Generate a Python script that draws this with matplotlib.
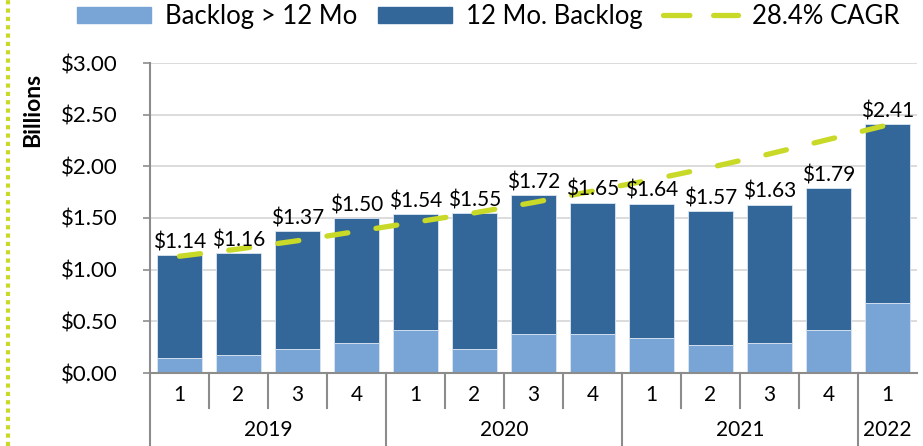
import matplotlib
matplotlib.use("Agg")
import matplotlib.pyplot as plt
from matplotlib.lines import Line2D
from matplotlib.patches import Patch
from matplotlib.ticker import FuncFormatter

plt.rcParams["font.family"] = ["Lato", "DejaVu Sans"]

quarters = ["1", "2", "3", "4", "1", "2", "3", "4", "1", "2", "3", "4", "1"]
years = ["2019", "2020", "2021", "2022"]
quarters_per_year = [4, 4, 4, 1]
total_backlog = [1.14, 1.16, 1.37, 1.50, 1.54, 1.55, 1.72, 1.65, 1.64, 1.57, 1.63, 1.79, 2.41]
backlog_over_12 = [0.15, 0.17, 0.23, 0.29, 0.42, 0.23, 0.38, 0.38, 0.34, 0.27, 0.29, 0.42, 0.68]
cagr_trend = [1.13, 1.20, 1.28, 1.37, 1.46, 1.55, 1.65, 1.76, 1.87, 1.99, 2.12, 2.26, 2.40]

backlog_12 = [t - o for t, o in zip(total_backlog, backlog_over_12)]

LIGHT = "#78A5D5"
DARK = "#336699"
LIME = "#C9D928"
GRID = "#D9D9D9"
AXIS = "#8C8C8C"

fig = plt.figure(figsize=(9.23, 4.46), dpi=100)
ax = fig.add_axes([150 / 923, 73 / 446, 767 / 923, 310 / 446])

x = list(range(len(quarters)))
ax.bar(x, backlog_over_12, width=0.76, color=LIGHT, edgecolor="#DCE6F2", linewidth=0.6, zorder=2)
ax.bar(x, backlog_12, bottom=backlog_over_12, width=0.76, color=DARK,
       edgecolor="#DCE6F2", linewidth=0.6, zorder=2)
ax.plot(x, cagr_trend, color=LIME, linewidth=3.8, dashes=(4, 5.4), dash_capstyle="round",
        solid_capstyle="round", zorder=4)

for xi, t in zip(x, total_backlog):
    ax.text(xi, t + 0.025, f"${t:.2f}", ha="center", va="bottom", fontsize=15, zorder=5)

ax.set_xlim(-0.5, len(quarters) - 0.5)
ax.set_ylim(0, 3.0)
ax.set_yticks([0, 0.5, 1.0, 1.5, 2.0, 2.5, 3.0])
ax.yaxis.set_major_formatter(FuncFormatter(lambda v, _: f"${v:.2f}"))
ax.tick_params(axis="y", labelsize=16, length=5, color=AXIS, width=1.2, pad=18)
ax.yaxis.grid(True, color=GRID, linewidth=1.3, zorder=0)
ax.set_axisbelow(True)
for side in ["top", "right"]:
    ax.spines[side].set_visible(False)
ax.spines["left"].set_color(AXIS)
ax.spines["left"].set_linewidth(1.5)
ax.spines["bottom"].set_color(AXIS)
ax.spines["bottom"].set_linewidth(1.5)
ax.set_xticks([])

# two-level category axis
trans = ax.get_xaxis_transform()
q_depth = -35 / 310
y_depth = -73 / 310
for xi, q in zip(x, quarters):
    ax.text(xi, -22 / 310, q, ha="center", va="center", fontsize=15, transform=trans)
start = 0
bounds = [-0.5]
for yr, n in zip(years, quarters_per_year):
    ax.text(start + (n - 1) / 2, -57 / 310, yr, ha="center", va="center", fontsize=15,
            transform=trans)
    for k in range(1, n):
        ax.plot([start + k - 0.5] * 2, [0, q_depth], color=AXIS, lw=1.5,
                transform=trans, clip_on=False)
    start += n
    bounds.append(start - 0.5)
for b in bounds[:-1]:
    ax.plot([b, b], [0, y_depth], color=AXIS, lw=1.5, transform=trans, clip_on=False)

fig.text(33 / 923, 1 - 110 / 446, "Billions", rotation=90, ha="center", va="center",
         fontsize=16.5, fontweight="bold")

# dotted border line on the left
fig.add_artist(Line2D([8 / 923, 8 / 923], [0, 1], color=LIME, lw=3, linestyle=(0, (1, 1))))

handles = [Patch(color=LIGHT), Patch(color=DARK),
           Line2D([0], [0], color=LIME, lw=3.8, dashes=(5, 4.5), dash_capstyle="round")]
labels = ["Backlog > 12 Mo", "12 Mo. Backlog", "28.4% CAGR"]
fig.legend(handles, labels, ncol=3, loc="center", bbox_to_anchor=(488 / 923, 1 - 16.5 / 446),
           frameon=False, fontsize=18.5, handlelength=2.9, handleheight=0.58,
           columnspacing=0.78, handletextpad=0.55, borderpad=0)

fig.savefig("out.png", dpi=100)
